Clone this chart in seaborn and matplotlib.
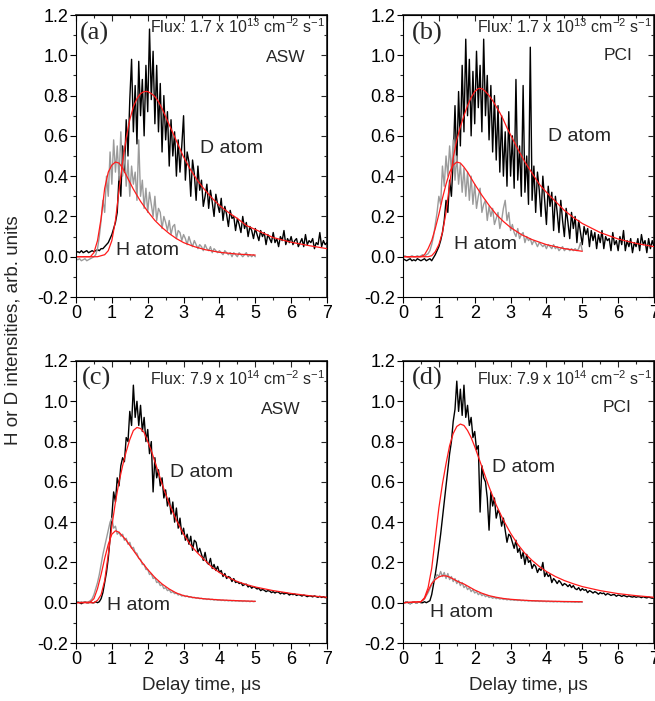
import numpy as np
import matplotlib
matplotlib.use('Agg')
import matplotlib.pyplot as plt
from matplotlib.ticker import MultipleLocator, FormatStrFormatter
import seaborn as sns

# time grids of the traces (D recorded to 7 us, H to 5 us)
t_d = np.linspace(0, 7, 141)
t_h = np.linspace(0, 5, 101)

# ---- (a) ASW, 1.7e13 ----
a_d = [0.02, 0.025, 0.02, 0.03, 0.02, 0.025, 0.03, 0.02, 0.025, 0.03,
       0.025, 0.03, 0.035, 0.03, 0.04, 0.04, 0.05, 0.06, 0.07, 0.09,
       0.11, 0.14, 0.17, 0.22, 0.40, 0.30, 0.55, 0.42, 0.68, 0.50,
       0.78, 0.98, 0.62, 0.85, 0.56, 0.97, 0.70, 0.88, 0.60, 0.95,
       0.72, 1.13, 0.78, 1.02, 0.66, 0.95, 0.62, 0.86, 0.52, 0.80,
       0.58, 0.72, 0.45, 0.68, 0.50, 0.62, 0.40, 0.58, 0.42, 0.55,
       0.70, 0.38, 0.52, 0.47, 0.30, 0.48, 0.41, 0.28, 0.45, 0.33,
       0.38, 0.25, 0.30, 0.36, 0.24, 0.33, 0.27, 0.20, 0.31, 0.26,
       0.22, 0.29, 0.18, 0.25, 0.21, 0.15, 0.23, 0.19, 0.20, 0.13,
       0.19, 0.16, 0.12, 0.20, 0.14, 0.17, 0.10, 0.15, 0.13, 0.09,
       0.14, 0.11, 0.08, 0.13, 0.10, 0.12, 0.06, 0.11, 0.09, 0.07,
       0.12, 0.07, 0.09, 0.05, 0.10, 0.08, 0.13, 0.06, 0.09, 0.07,
       0.10, 0.06, 0.08, 0.09, 0.05, 0.07, 0.09, 0.05, 0.11, 0.06,
       0.08, 0.07, 0.09, 0.04, 0.07, 0.06, 0.12, 0.05, 0.08, 0.06,
       0.07]
a_h = [-0.01, -0.015, -0.01, -0.02, -0.015, -0.01, -0.02, -0.015, -0.01, -0.005,
       0.0, 0.01, 0.04, 0.10, 0.18, 0.28, 0.22, 0.40, 0.30, 0.52,
       0.36, 0.58, 0.42, 0.55, 0.38, 0.62, 0.40, 0.52, 0.35, 0.48,
       0.30, 0.45, 0.36, 0.42, 0.28, 0.58, 0.30, 0.38, 0.24, 0.34,
       0.22, 0.32, 0.26, 0.20, 0.30, 0.18, 0.24, 0.22, 0.14, 0.20,
       0.17, 0.13, 0.18, 0.11, 0.15, 0.16, 0.09, 0.13, 0.12, 0.08,
       0.11, 0.09, 0.06, 0.10, 0.07, 0.05, 0.08, 0.06, 0.04, 0.06,
       0.05, 0.03, 0.06, 0.04, 0.03, 0.05, 0.02, 0.04, 0.03, 0.02,
       0.03, 0.02, 0.01, 0.03, 0.02, 0.01, 0.02, 0.0, 0.02, 0.01,
       0.0, 0.02, 0.01, 0.0, 0.01, 0.02, 0.0, 0.01, 0.0, 0.01,
       0.0]
a_dfit_t = [0, 0.6, 0.8, 0.9, 1.0, 1.1, 1.2, 1.3, 1.4, 1.5, 1.6, 1.7, 1.8, 1.9, 2.0,
            2.1, 2.2, 2.3, 2.4, 2.5, 2.6, 2.7, 2.8, 2.9, 3.0, 3.2, 3.4, 3.6, 3.8,
            4.0, 4.25, 4.5, 4.75, 5.0, 5.5, 6.0, 6.5, 7.0]
a_dfit = [0, 0.0, 0.01, 0.03, 0.08, 0.18, 0.33, 0.47, 0.59, 0.68, 0.745, 0.785, 0.81,
          0.82, 0.82, 0.81, 0.795, 0.77, 0.735, 0.695, 0.655, 0.615, 0.575, 0.535,
          0.495, 0.43, 0.375, 0.33, 0.29, 0.255, 0.22, 0.19, 0.155, 0.135, 0.095,
          0.072, 0.055, 0.04]
a_hfit_t = [0, 0.4, 0.5, 0.6, 0.7, 0.8, 0.9, 1.0, 1.1, 1.2, 1.3, 1.4, 1.5, 1.6, 1.8,
            2.0, 2.2, 2.4, 2.6, 2.8, 3.0, 3.3, 3.6, 4.0, 4.5, 5.0]
a_hfit = [0, 0.0, 0.02, 0.08, 0.19, 0.34, 0.42, 0.455, 0.47, 0.465, 0.44, 0.405,
          0.37, 0.335, 0.275, 0.225, 0.18, 0.145, 0.115, 0.09, 0.07, 0.05, 0.035,
          0.022, 0.013, 0.008]

# ---- (b) PCI, 1.7e13 ----
b_d = [-0.01, -0.015, -0.02, -0.015, -0.01, -0.02, -0.015, -0.02, -0.01, -0.015,
       -0.02, -0.015, -0.01, -0.02, -0.015, -0.01, -0.02, -0.005, 0.01, 0.03,
       0.05, 0.08, 0.12, 0.18, 0.28, 0.22, 0.38, 0.30, 0.48, 0.75,
       0.45, 0.82, 0.55, 0.95, 0.62, 1.08, 0.70, 0.98, 0.60, 0.92,
       0.66, 1.02, 0.74, 0.95, 0.62, 1.08, 0.70, 0.90, 0.58, 0.85,
       0.52, 0.80, 0.48, 0.75, 0.42, 0.70, 0.40, 0.62, 0.35, 0.72,
       0.40, 0.60, 0.34, 0.88, 0.38, 0.55, 0.30, 0.85, 0.32, 0.50,
       0.26, 1.04, 0.28, 0.45, 0.22, 0.42, 0.33, 0.20, 0.40, 0.28,
       0.16, 0.35, 0.25, 0.32, 0.13, 0.30, 0.22, 0.12, 0.28, 0.18,
       0.10, 0.24, 0.17, 0.09, 0.22, 0.14, 0.20, 0.07, 0.18, 0.12,
       0.06, 0.15, 0.11, 0.14, 0.05, 0.13, 0.08, 0.12, 0.04, 0.11,
       0.07, 0.13, 0.04, 0.10, 0.08, 0.09, 0.03, 0.12, 0.06, 0.08,
       0.03, 0.10, 0.06, 0.13, 0.03, 0.08, 0.05, 0.09, 0.02, 0.07,
       0.05, 0.09, 0.03, 0.11, 0.06, 0.08, 0.02, 0.09, 0.04, 0.08,
       0.05]
b_h = [0.0, 0.005, 0.0, -0.005, 0.0, 0.005, 0.0, 0.0, 0.005, 0.0,
       0.005, 0.01, 0.0, 0.01, 0.015, 0.03, 0.06, 0.10, 0.16, 0.22,
       0.30, 0.26, 0.45, 0.35, 0.50, 0.40, 0.55, 0.42, 0.58, 0.38,
       0.50, 0.36, 0.46, 0.32, 0.44, 0.30, 0.42, 0.28, 0.40, 0.26,
       0.36, 0.24, 0.30, 0.34, 0.22, 0.26, 0.28, 0.18, 0.25, 0.20,
       0.24, 0.16, 0.19, 0.22, 0.14, 0.18, 0.24, 0.28, 0.18, 0.22,
       0.13, 0.16, 0.12, 0.10, 0.14, 0.09, 0.11, 0.12, 0.07, 0.10,
       0.08, 0.09, 0.06, 0.08, 0.07, 0.05, 0.07, 0.06, 0.05, 0.06,
       0.04, 0.06, 0.05, 0.04, 0.06, 0.04, 0.05, 0.03, 0.04, 0.05,
       0.03, 0.04, 0.04, 0.03, 0.04, 0.03, 0.04, 0.03, 0.04, 0.07,
       0.03]
b_dfit_t = [0, 0.7, 0.8, 0.9, 1.0, 1.1, 1.2, 1.3, 1.4, 1.5, 1.6, 1.7, 1.8, 1.9, 2.0,
            2.1, 2.2, 2.3, 2.4, 2.5, 2.6, 2.7, 2.8, 2.9, 3.0, 3.2, 3.4, 3.6, 3.8,
            4.0, 4.25, 4.5, 4.75, 5.0, 5.5, 6.0, 6.5, 7.0]
b_dfit = [0, 0.0, 0.005, 0.025, 0.06, 0.12, 0.22, 0.36, 0.49, 0.58, 0.645, 0.70,
          0.75, 0.79, 0.82, 0.835, 0.835, 0.82, 0.80, 0.775, 0.745, 0.715, 0.68,
          0.64, 0.605, 0.535, 0.47, 0.415, 0.36, 0.32, 0.275, 0.23, 0.195, 0.165,
          0.12, 0.088, 0.066, 0.05]
b_hfit_t = [0, 0.5, 0.6, 0.7, 0.8, 0.9, 1.0, 1.1, 1.2, 1.3, 1.4, 1.5, 1.6, 1.7, 1.8,
            2.0, 2.2, 2.4, 2.6, 2.8, 3.0, 3.3, 3.6, 4.0, 4.5, 5.0]
b_hfit = [0, 0.0, 0.01, 0.04, 0.08, 0.14, 0.21, 0.29, 0.36, 0.42, 0.455, 0.47,
          0.465, 0.445, 0.42, 0.36, 0.305, 0.255, 0.21, 0.175, 0.145, 0.11, 0.085,
          0.06, 0.04, 0.027]

# ---- (c) ASW, 7.9e14 ----
c_d = [0.0, 0.005, 0.0, -0.005, 0.0, 0.005, 0.0, 0.0, 0.005, 0.0,
       0.0, 0.005, 0.0, 0.005, 0.02, 0.05, 0.10, 0.15, 0.22, 0.32,
       0.43, 0.55, 0.50, 0.62, 0.58, 0.68, 0.72, 0.70, 0.82, 0.80,
       0.95, 0.88, 1.08, 0.92, 1.00, 0.88, 0.98, 0.85, 0.92, 0.80,
       0.86, 0.74, 0.80, 0.55, 0.72, 0.62, 0.66, 0.58, 0.62, 0.52,
       0.56, 0.48, 0.52, 0.44, 0.50, 0.40, 0.47, 0.37, 0.42, 0.34,
       0.37, 0.31, 0.34, 0.29, 0.33, 0.26, 0.31, 0.30, 0.25, 0.27,
       0.24, 0.21, 0.25, 0.20, 0.19, 0.22, 0.17, 0.19, 0.16, 0.18,
       0.15, 0.16, 0.13, 0.145, 0.12, 0.13, 0.125, 0.105, 0.12, 0.10,
       0.105, 0.095, 0.10, 0.085, 0.09, 0.092, 0.078, 0.085, 0.072, 0.08,
       0.075, 0.068, 0.072, 0.06, 0.066, 0.062, 0.055, 0.06, 0.058, 0.05,
       0.055, 0.048, 0.054, 0.052, 0.044, 0.05, 0.043, 0.047, 0.046, 0.038,
       0.044, 0.04, 0.043, 0.036, 0.04, 0.038, 0.033, 0.038, 0.035, 0.03,
       0.034, 0.033, 0.029, 0.034, 0.03, 0.027, 0.032, 0.026, 0.03, 0.025,
       0.028]
c_h = [0.0, 0.005, 0.0, 0.005, 0.0, 0.005, 0.0, 0.005, 0.01, 0.02,
       0.04, 0.07, 0.10, 0.14, 0.19, 0.24, 0.28, 0.32, 0.36, 0.40,
       0.42, 0.37, 0.38, 0.34, 0.35, 0.33, 0.34, 0.31, 0.32, 0.29,
       0.30, 0.27, 0.275, 0.25, 0.245, 0.22, 0.215, 0.19, 0.19, 0.165,
       0.165, 0.14, 0.145, 0.12, 0.125, 0.10, 0.105, 0.085, 0.09, 0.07,
       0.075, 0.06, 0.065, 0.05, 0.055, 0.045, 0.048, 0.038, 0.042, 0.033,
       0.037, 0.03, 0.034, 0.027, 0.03, 0.024, 0.027, 0.022, 0.025, 0.02,
       0.022, 0.018, 0.02, 0.016, 0.019, 0.015, 0.017, 0.013, 0.016, 0.012,
       0.014, 0.011, 0.013, 0.01, 0.012, 0.009, 0.011, 0.008, 0.011, 0.008,
       0.01, 0.007, 0.009, 0.006, 0.009, 0.006, 0.008, 0.005, 0.008, 0.005,
       0.007]
c_dfit_t = [0, 0.5, 0.6, 0.7, 0.8, 0.9, 1.0, 1.1, 1.2, 1.3, 1.4, 1.5, 1.6, 1.7, 1.8,
            1.9, 2.0, 2.1, 2.2, 2.3, 2.4, 2.5, 2.6, 2.8, 3.0, 3.2, 3.4, 3.6, 3.8,
            4.0, 4.25, 4.5, 4.75, 5.0, 5.5, 6.0, 6.5, 7.0]
c_dfit = [0, 0.0, 0.012, 0.04, 0.11, 0.24, 0.38, 0.50, 0.60, 0.68, 0.75, 0.81,
          0.855, 0.87, 0.865, 0.845, 0.80, 0.755, 0.70, 0.645, 0.59, 0.54, 0.49,
          0.41, 0.34, 0.285, 0.245, 0.21, 0.175, 0.15, 0.125, 0.105, 0.09, 0.078,
          0.06, 0.046, 0.035, 0.027]
c_hfit_t = [0, 0.4, 0.5, 0.6, 0.7, 0.8, 0.9, 1.0, 1.1, 1.2, 1.3, 1.4, 1.5, 1.6, 1.8,
            2.0, 2.2, 2.4, 2.6, 2.8, 3.0, 3.3, 3.6, 4.0, 4.5, 5.0]
c_hfit = [0, 0.003, 0.02, 0.07, 0.14, 0.22, 0.29, 0.34, 0.357, 0.35, 0.33, 0.31,
          0.285, 0.26, 0.21, 0.165, 0.125, 0.093, 0.068, 0.048, 0.035, 0.025,
          0.019, 0.014, 0.01, 0.007]

# ---- (d) PCI, 7.9e14 ----
d_d = [0.0, 0.0, 0.005, 0.0, -0.005, 0.0, 0.005, 0.0, 0.0, 0.005,
       0.0, 0.0, 0.005, 0.0, 0.005, 0.01, 0.04, 0.09, 0.14, 0.20,
       0.27, 0.34, 0.42, 0.50, 0.58, 0.66, 0.74, 0.80, 0.90, 0.96,
       1.10, 0.95, 1.06, 0.93, 1.08, 0.92, 0.98, 0.88, 0.92, 0.82,
       0.85, 0.76, 0.78, 0.45, 0.68, 0.62, 0.60, 0.52, 0.36, 0.55,
       0.48, 0.52, 0.42, 0.46, 0.44, 0.38, 0.42, 0.36, 0.30, 0.34,
       0.33, 0.30, 0.27, 0.31, 0.25, 0.27, 0.22, 0.25, 0.19, 0.24,
       0.20, 0.21, 0.17, 0.19, 0.18, 0.15, 0.17, 0.16, 0.20, 0.13,
       0.15, 0.13, 0.14, 0.10, 0.12, 0.11, 0.095, 0.11, 0.10, 0.085,
       0.095, 0.09, 0.08, 0.09, 0.075, 0.085, 0.07, 0.065, 0.075, 0.06,
       0.07, 0.062, 0.065, 0.05, 0.06, 0.055, 0.048, 0.055, 0.05, 0.042,
       0.05, 0.045, 0.048, 0.038, 0.045, 0.042, 0.036, 0.04, 0.04, 0.032,
       0.038, 0.036, 0.031, 0.036, 0.033, 0.029, 0.034, 0.03, 0.028, 0.031,
       0.027, 0.03, 0.029, 0.025, 0.03, 0.026, 0.024, 0.028, 0.025, 0.022,
       0.026]
d_h = [0.0, 0.0, 0.005, 0.0, -0.005, 0.0, 0.005, 0.0, 0.0, 0.005,
       0.005, 0.01, 0.02, 0.035, 0.05, 0.07, 0.09, 0.11, 0.12, 0.14,
       0.13, 0.155, 0.13, 0.15, 0.12, 0.145, 0.115, 0.13, 0.105, 0.12,
       0.095, 0.11, 0.085, 0.10, 0.075, 0.085, 0.065, 0.075, 0.055, 0.065,
       0.048, 0.055, 0.04, 0.048, 0.035, 0.042, 0.03, 0.036, 0.026, 0.03,
       0.022, 0.027, 0.02, 0.024, 0.018, 0.021, 0.016, 0.019, 0.014, 0.017,
       0.013, 0.015, 0.012, 0.014, 0.011, 0.013, 0.01, 0.012, 0.009, 0.011,
       0.008, 0.01, 0.008, 0.009, 0.007, 0.009, 0.006, 0.008, 0.006, 0.007,
       0.005, 0.007, 0.005, 0.006, 0.004, 0.006, 0.004, 0.006, 0.004, 0.005,
       0.003, 0.005, 0.003, 0.005, 0.003, 0.004, 0.002, 0.004, 0.002, 0.004,
       0.002]
d_dfit_t = [0, 0.5, 0.6, 0.7, 0.8, 0.9, 1.0, 1.1, 1.2, 1.3, 1.4, 1.5, 1.6, 1.7, 1.8,
            1.9, 2.0, 2.1, 2.2, 2.3, 2.4, 2.5, 2.6, 2.8, 3.0, 3.2, 3.4, 3.6, 3.8,
            4.0, 4.25, 4.5, 4.75, 5.0, 5.5, 6.0, 6.5, 7.0]
d_dfit = [0, 0.005, 0.025, 0.075, 0.17, 0.32, 0.47, 0.59, 0.69, 0.78, 0.84, 0.875,
          0.887, 0.88, 0.855, 0.82, 0.775, 0.725, 0.675, 0.625, 0.575, 0.53, 0.485,
          0.41, 0.345, 0.29, 0.245, 0.21, 0.18, 0.155, 0.13, 0.11, 0.094, 0.08,
          0.06, 0.045, 0.035, 0.027]
d_hfit_t = [0, 0.5, 0.6, 0.7, 0.8, 0.9, 1.0, 1.1, 1.2, 1.3, 1.4, 1.5, 1.6, 1.7, 1.8,
            2.0, 2.2, 2.4, 2.6, 2.8, 3.0, 3.3, 3.6, 4.0, 4.5, 5.0]
d_hfit = [0, 0.005, 0.02, 0.06, 0.095, 0.115, 0.128, 0.134, 0.133, 0.127, 0.118,
          0.108, 0.1, 0.093, 0.083, 0.063, 0.047, 0.035, 0.027, 0.021, 0.017, 0.013,
          0.01, 0.008, 0.006, 0.005]

panel_tags = ['(a)', '(b)', '(c)', '(d)']
fluxes = [r'Flux: 1.7 x 10$^{\mathregular{13}}$ cm$^{\mathregular{-2}}$ s$^{\mathregular{-1}}$',
          r'Flux: 1.7 x 10$^{\mathregular{13}}$ cm$^{\mathregular{-2}}$ s$^{\mathregular{-1}}$',
          r'Flux: 7.9 x 10$^{\mathregular{14}}$ cm$^{\mathregular{-2}}$ s$^{\mathregular{-1}}$',
          r'Flux: 7.9 x 10$^{\mathregular{14}}$ cm$^{\mathregular{-2}}$ s$^{\mathregular{-1}}$']
surfaces = ['ASW', 'PCI', 'ASW', 'PCI']

sns.set_theme(style='ticks')
plt.rcParams['font.family'] = ['Liberation Sans', 'DejaVu Sans']
plt.rcParams['axes.unicode_minus'] = False

GRAY = '#9b9b9b'
RED = '#ff1a1a'


def draw_panel(ax, d, h, dfit_t, dfit, hfit_t, hfit, tag, flux, surf, pos):
    ''' one panel: D trace, H trace and their fits '''
    sns.lineplot(x=t_d, y=d, ax=ax, color='black', linewidth=1.0,
                 estimator=None, sort=False)
    sns.lineplot(x=t_h, y=h, ax=ax, color=GRAY, linewidth=1.0,
                 estimator=None, sort=False)
    sns.lineplot(x=dfit_t, y=dfit, ax=ax, color=RED, linewidth=0.9,
                 estimator=None, sort=False)
    sns.lineplot(x=hfit_t, y=hfit, ax=ax, color=RED, linewidth=0.9,
                 estimator=None, sort=False)

    ax.set_xlim(0, 7)
    ax.set_ylim(-0.2, 1.2)
    ax.xaxis.set_major_locator(MultipleLocator(1))
    ax.xaxis.set_minor_locator(MultipleLocator(0.5))
    ax.yaxis.set_major_locator(MultipleLocator(0.2))
    ax.yaxis.set_minor_locator(MultipleLocator(0.1))
    ax.yaxis.set_major_formatter(FormatStrFormatter('%.1f'))
    ax.tick_params(which='major', direction='out', length=4, width=0.8,
                   labelsize=13, pad=1.5, colors='black')
    ax.tick_params(which='minor', direction='out', length=2.5, width=0.8)
    for s in ax.spines.values():
        s.set_linewidth(0.8)
        s.set_color('black')
        s.set_visible(True)
    # mirror ticks on the top and right
    top = ax.secondary_xaxis('top')
    top.xaxis.set_major_locator(MultipleLocator(1))
    top.xaxis.set_minor_locator(MultipleLocator(0.5))
    top.tick_params(which='both', direction='in', labeltop=False)
    top.tick_params(which='major', length=4, width=0.8)
    top.tick_params(which='minor', length=2.5, width=0.8)
    right = ax.secondary_yaxis('right')
    right.yaxis.set_major_locator(MultipleLocator(0.2))
    right.yaxis.set_minor_locator(MultipleLocator(0.1))
    right.tick_params(which='both', direction='in', labelright=False)
    right.tick_params(which='major', length=4, width=0.8)
    right.tick_params(which='minor', length=2.5, width=0.8)
    ax.set_xlabel('')
    ax.set_ylabel('')

    ax.text(pos['tag'][0], pos['tag'][1], tag, family=['Liberation Serif'],
            fontsize=19, ha='left', va='center')
    ax.text(6.94, pos['flux'], flux, fontsize=11.5, ha='right', va='baseline')
    ax.text(pos['surf'][0], pos['surf'][1], surf, fontsize=12.5,
            ha='right', va='baseline')
    ax.text(pos['D'][0], pos['D'][1], 'D atom', fontsize=14, ha='left', va='baseline')
    ax.text(pos['H'][0], pos['H'][1], 'H atom', fontsize=14, ha='left', va='baseline')


fig = plt.figure(figsize=(6.55, 7.01), dpi=100)
W, H = 655, 701
rects = [(76, 15), (403, 15), (76, 361), (403, 361)]
axes = [fig.add_axes([x / W, 1 - (y + 282) / H, 251 / W, 282 / H]) for x, y in rects]

label_pos = [
    {'tag': (0.11, 1.11), 'flux': 1.11, 'surf': (6.39, 0.968), 'D': (3.46, 0.515), 'H': (1.115, 0.01)},
    {'tag': (0.24, 1.11), 'flux': 1.11, 'surf': (6.41, 0.977), 'D': (4.04, 0.573), 'H': (1.42, 0.04)},
    {'tag': (0.16, 1.115), 'flux': 1.08, 'surf': (6.25, 0.937), 'D': (2.62, 0.623), 'H': (0.86, -0.036)},
    {'tag': (0.24, 1.115), 'flux': 1.08, 'surf': (6.38, 0.948), 'D': (2.47, 0.647), 'H': (0.75, -0.07)},
]
series = [
    (a_d, a_h, a_dfit_t, a_dfit, a_hfit_t, a_hfit),
    (b_d, b_h, b_dfit_t, b_dfit, b_hfit_t, b_hfit),
    (c_d, c_h, c_dfit_t, c_dfit, c_hfit_t, c_hfit),
    (d_d, d_h, d_dfit_t, d_dfit, d_hfit_t, d_hfit),
]
for i, ax in enumerate(axes):
    draw_panel(ax, *series[i], panel_tags[i], fluxes[i], surfaces[i], label_pos[i])

for ax in axes[2:]:
    ax.set_xlabel('Delay time, \u03bcs', fontsize=13.5, labelpad=7)

fig.text(13 / W, 1 - 330 / H, 'H or D intensities, arb. units', rotation=90,
         fontsize=13.5, ha='center', va='center')

fig.savefig('out.png', dpi=100)
